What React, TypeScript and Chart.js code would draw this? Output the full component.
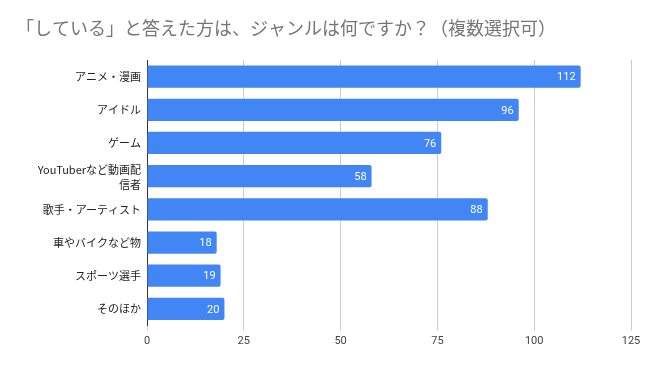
import React, { useEffect, useRef } from "react";
import { Chart, registerables } from "chart.js";

Chart.register(...registerables);

const TITLE = "「している」と答えた方は、ジャンルは何ですか？（複数選択可）";
const categories: (string | string[])[] = [
  "アニメ・漫画",
  "アイドル",
  "ゲーム",
  ["YouTuberなど動画配", "信者"],
  "歌手・アーティスト",
  "車やバイクなど物",
  "スポーツ選手",
  "そのほか",
];
const values = [112, 96, 76, 58, 88, 18, 19, 20];
const xTicks = [0, 25, 50, 75, 100, 125];

const FONT = "Roboto, 'Noto Sans CJK JP', sans-serif";
const LABEL_FONT = "'Noto Sans CJK JP', sans-serif";

export default function App() {
  const ref = useRef<HTMLCanvasElement | null>(null);
  useEffect(() => {
    if (!ref.current) return;
    const titlePlugin = {
      id: "customTitle",
      afterDraw(chart: any) {
        const ctx = chart.ctx;
        ctx.save();
        ctx.font = `18px ${FONT}`;
        ctx.fillStyle = "#757575";
        ctx.textAlign = "left";
        ctx.textBaseline = "middle";
        ctx.fillText(TITLE, 16, 30);
        ctx.restore();
      },
    };
    const yLabelPlugin = {
      id: "yLabels",
      afterDraw(chart: any) {
        const ctx = chart.ctx;
        const y = chart.scales.y;
        const xRight = chart.chartArea.left - 6;
        ctx.save();
        ctx.font = `11px ${LABEL_FONT}`;
        ctx.fillStyle = "#222222";
        ctx.textAlign = "left";
        ctx.textBaseline = "middle";
        categories.forEach((lab, i) => {
          const lines = Array.isArray(lab) ? lab : [lab];
          const cy = y.getPixelForValue(i);
          const lh = 15;
          const start = cy - ((lines.length - 1) * lh) / 2 + (lines.length > 1 ? 1 : 0);
          lines.forEach((ln, j) => {
            const w = ctx.measureText(ln).width;
            ctx.fillText(ln, xRight - w, start + j * lh);
          });
        });
        ctx.restore();
      },
    };
    const valuePlugin = {
      id: "valueLabels",
      afterDatasetsDraw(chart: any) {
        const ctx = chart.ctx;
        const meta = chart.getDatasetMeta(0);
        ctx.save();
        ctx.font = `11px ${FONT}`;
        ctx.fillStyle = "#ffffff";
        ctx.textAlign = "right";
        ctx.textBaseline = "middle";
        meta.data.forEach((bar: any, i: number) => {
          ctx.fillText(String(values[i]), bar.x - 5, bar.y + 1);
        });
        ctx.restore();
      },
    };
    const chart = new Chart(ref.current, {
      type: "bar",
      data: {
        labels: categories,
        datasets: [
          {
            data: values,
            backgroundColor: "#4285f4",
            borderRadius: 2,
            borderSkipped: "start",
            categoryPercentage: 1,
            barPercentage: 0.67,
          },
        ],
      },
      options: {
        indexAxis: "y",
        responsive: false,
        animation: false,
        devicePixelRatio: 1,
        layout: { padding: { top: 60, right: 19, left: 0, bottom: 0 } },
        plugins: {
          legend: { display: false },
          title: { display: false },
          tooltip: { enabled: false },
        },
        scales: {
          x: {
            min: 0,
            max: 125,
            afterBuildTicks(scale: any) {
              scale.ticks = xTicks.map((v) => ({ value: v }));
            },
            afterFit(scale: any) {
              scale.height = 44.5;
            },
            grid: {
              color: "#cccccc",
              tickLength: 5,
              drawTicks: true,
            },
            border: { display: false },
            ticks: {
              color: "#444444",
              font: { family: FONT, size: 11 },
              padding: 4,
            },
          },
          y: {
            afterFit(scale: any) {
              scale.width = 147;
            },
            grid: { display: false, drawTicks: false },
            border: { display: true, color: "#333333", width: 1 },
            ticks: { display: false },
          },
        },
      },
      plugins: [titlePlugin, yLabelPlugin, valuePlugin],
    } as any);
    return () => chart.destroy();
  }, []);
  return (
    <div style={{ position: "fixed", left: 0, top: 0, width: 650, height: 370, background: "#fff" }}>
      <canvas ref={ref} width={650} height={370} />
    </div>
  );
}
